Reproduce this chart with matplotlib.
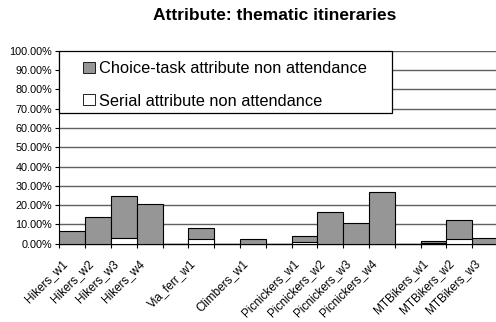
import numpy as np
import matplotlib
matplotlib.use("Agg")
import matplotlib.pyplot as plt
from matplotlib.patches import Patch, Rectangle
from matplotlib.legend_handler import HandlerPatch
from matplotlib.transforms import ScaledTranslation

plt.rcParams['font.family'] = ['Liberation Sans', 'DejaVu Sans']

# empty strings are the blank slots between user groups
labels = ["Hikers_w1", "Hikers_w2", "Hikers_w3", "Hikers_w4", "",
          "Via_ferr_w1", "", "Climbers_w1", "",
          "Picnickers_w1", "Picnickers_w2", "Picnickers_w3", "Picnickers_w4", "",
          "MTBikers_w1", "MTBikers_w2", "MTBikers_w3"]
choice_task = [6.5, 13.7, 24.9, 20.8, None,
               8.2, None, 2.3, None,
               4.0, 16.6, 10.9, 27.0, None,
               1.6, 12.4, 2.8]
serial = [0.0, 0.0, 2.7, 0.0, None,
          2.4, None, 0.0, None,
          1.0, 0.0, 0.0, 0.0, None,
          0.4, 2.6, 0.0]
yticks = np.arange(0, 101, 10)

fig = plt.figure(figsize=(4.96, 3.22), dpi=100)
ax = fig.add_axes([0.1196, 0.2432, 0.8844, 0.599])

x = np.arange(len(labels))
idx = [i for i, v in enumerate(choice_task) if v is not None]
gray = "#969696"

ax.bar([x[i] for i in idx], [choice_task[i] for i in idx], width=1.0,
       color=gray, edgecolor="black", linewidth=0.8, zorder=3)
sidx = [i for i in idx if serial[i] > 0]
ax.bar([x[i] for i in sidx], [serial[i] for i in sidx], width=1.0,
       color="white", edgecolor="black", linewidth=0.8, zorder=4)

ax.set_xlim(-0.5, len(labels) - 0.5)
ax.set_ylim(0, 100)
ax.set_yticks(yticks)
ax.set_yticklabels([f"{v:.2f}%" for v in yticks], fontsize=7.8)
ax.yaxis.grid(True, color="#606060", linewidth=1.0, zorder=0)
ax.tick_params(axis="y", length=3, width=0.8, pad=2)

ax.set_xticks(idx)
ax.set_xticklabels([labels[i] for i in idx], rotation=45, ha="right",
                   va="center", rotation_mode="anchor", fontsize=8.5)
ax.tick_params(axis="x", which="major", length=0, pad=13)
shift = ScaledTranslation(-7 / 100, 0, fig.dpi_scale_trans)
for lab in ax.get_xticklabels():
    lab.set_transform(lab.get_transform() + shift)
ax.set_xticks(np.arange(len(labels) + 1) - 0.5, minor=True)
ax.tick_params(axis="x", which="minor", length=3, width=0.8)

for s in ["top", "right"]:
    ax.spines[s].set_visible(False)
ax.spines["left"].set_linewidth(0.8)
ax.spines["bottom"].set_linewidth(1.0)


def inset_square(legend, orig_handle, xdescent, ydescent, width, height, fontsize):
    # small square sitting at the right end of the handle box
    return Rectangle((-xdescent + width * 0.57, -ydescent), width * 0.43, height)


# legend frame drawn by hand so the entries can sit a bit lower in it
ax.add_patch(Rectangle((0, 0.6786), 0.759, 0.3214, transform=ax.transAxes,
                       facecolor="white", edgecolor="black", linewidth=0.9,
                       clip_on=False, zorder=9))
handles = [Patch(facecolor=gray, edgecolor="black", linewidth=0.6,
                 label="Choice-task attribute non attendance"),
           Patch(facecolor="white", edgecolor="black", linewidth=0.6,
                 label="Serial attribute non attendance")]
leg = ax.legend(handles=handles, loc="upper left",
                bbox_to_anchor=(0, 0.988), frameon=False,
                fontsize=11.8, handlelength=1.69, handleheight=0.68,
                handletextpad=0.25, labelspacing=1.05, borderpad=0.5,
                borderaxespad=0,
                handler_map={Patch: HandlerPatch(patch_func=inset_square)})
leg.set_zorder(10)

fig.text(0.553, 0.953, "Attribute: thematic itineraries", ha="center",
         va="center", fontsize=12.5, fontweight="bold")

fig.savefig("out.png", dpi=100)
